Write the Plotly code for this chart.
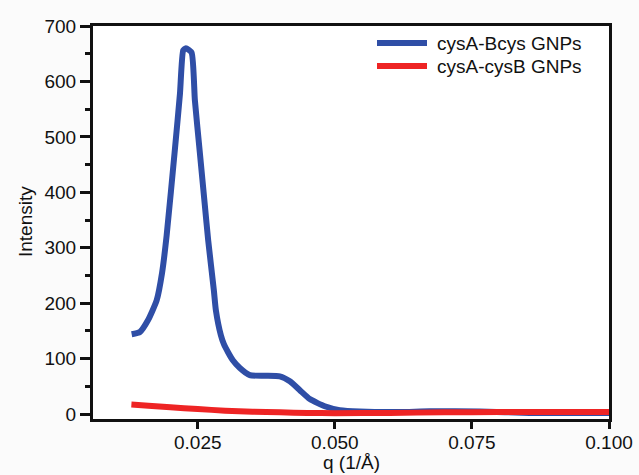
import plotly.graph_objects as go

# Data
q_blue = [0.01295, 0.01446, 0.01592, 0.01751, 0.01850, 0.01933, 0.02085, 0.02176, 0.02235,
          0.02284, 0.02388, 0.02448, 0.02539, 0.02630, 0.02691, 0.02794, 0.02831, 0.02922,
          0.02977, 0.03050, 0.03140, 0.03268, 0.03450, 0.03724, 0.03997, 0.04180, 0.04362,
          0.04544, 0.04817, 0.05090, 0.05455, 0.06180, 0.06730, 0.07640, 0.08550, 0.10000]
i_blue = [144, 148, 169, 205, 255, 322, 479, 578, 656,
          660, 652, 566, 471, 376, 313, 223, 187, 142,
          126, 112, 97, 83, 70, 69, 68, 59, 43,
          27, 14, 7, 4.5, 3.5, 5, 4.5, 2, 2]

q_red = [0.0129, 0.016, 0.020, 0.025, 0.030, 0.035, 0.040, 0.045, 0.050, 0.060, 0.070, 0.080, 0.090, 0.100]
i_red = [17, 15, 12, 9, 6, 4, 3, 2, 1.5, 2, 3, 3.5, 3.5, 3.5]

x_ticks = [0.025, 0.050, 0.075, 0.100]
x_ticklabels = ["0.025", "0.050", "0.075", "0.100"]
y_ticks = [0, 100, 200, 300, 400, 500, 600, 700]

name_blue = "cysA-Bcys GNPs"
name_red = "cysA-cysB GNPs"
x_title = "q (1/Å)"
y_title = "Intensity"
color_blue = "#2F4EA6"
color_red = "#EE2424"

FONT = "Liberation Sans, Arial, sans-serif"
FS = 19

fig = go.Figure()
fig.add_trace(go.Scatter(x=q_blue, y=i_blue, mode="lines", name=name_blue,
                         line=dict(color=color_blue, width=6, shape="spline", smoothing=0.5)))
fig.add_trace(go.Scatter(x=q_red, y=i_red, mode="lines", name=name_red,
                         line=dict(color=color_red, width=6, shape="spline", smoothing=0.5)))

# Manual legend and axis titles (paper coordinates)
W, H = 639, 475
L, R, T, B = 93, 30, 26, 56
pw, ph = W - L - R, H - T - B

def px2paper(x, y):
    return (x - L) / pw, 1 - (y - T) / ph

legend_items = [(name_blue, color_blue, 43), (name_red, color_red, 66)]
shapes = []
annotations = []
for name, col, ypx in legend_items:
    x0, y0 = px2paper(377, ypx)
    x1, _ = px2paper(427, ypx)
    shapes.append(dict(type="line", xref="paper", yref="paper", x0=x0, x1=x1, y0=y0, y1=y0,
                       line=dict(color=col, width=6)))
    xt, _ = px2paper(435, ypx)
    annotations.append(dict(text=name, xref="paper", yref="paper", x=xt, y=y0,
                            xanchor="left", yanchor="middle", showarrow=False,
                            font=dict(family=FONT, size=FS, color="#111111")))

xtx, xty = px2paper(351, 475)
annotations.append(dict(text=x_title, xref="paper", yref="paper", x=xtx, y=xty,
                        xanchor="center", yanchor="bottom", showarrow=False,
                        font=dict(family=FONT, size=FS, color="#111111")))
ytx, yty = px2paper(25, 222)
annotations.append(dict(text=y_title, xref="paper", yref="paper", x=ytx, y=yty,
                        xanchor="center", yanchor="middle", showarrow=False, textangle=-90,
                        font=dict(family=FONT, size=FS, color="#111111")))

fig.update_layout(
    width=W, height=H,
    margin=dict(l=L, r=R, t=T, b=B),
    paper_bgcolor="#FBFBFB",
    plot_bgcolor="#FFFFFF",
    font=dict(family=FONT, size=FS, color="#111111"),
    showlegend=False,
    shapes=shapes,
    annotations=annotations,
)

fig.update_xaxes(
    range=[0.0059, 0.100], automargin=False,
    tickvals=x_ticks, ticktext=x_ticklabels,
    ticks="outside", ticklen=7, tickwidth=2.5, tickcolor="#111111",
    ticklabelstandoff=-3,
    showline=True, linewidth=3, linecolor="#111111", mirror=True,
    showgrid=False, zeroline=False,
    tickfont=dict(size=FS),
)
fig.update_yaxes(
    range=[-9, 700], automargin=False,
    tickvals=y_ticks,
    ticks="outside", ticklen=10, tickwidth=2.5, tickcolor="#111111",
    minor=dict(dtick=50, tick0=0, ticks="outside", ticklen=5, tickwidth=2.5, tickcolor="#111111"),
    showline=True, linewidth=3, linecolor="#111111", mirror=True,
    showgrid=False, zeroline=False,
    tickfont=dict(size=FS),
)

fig.write_html("out.html")
